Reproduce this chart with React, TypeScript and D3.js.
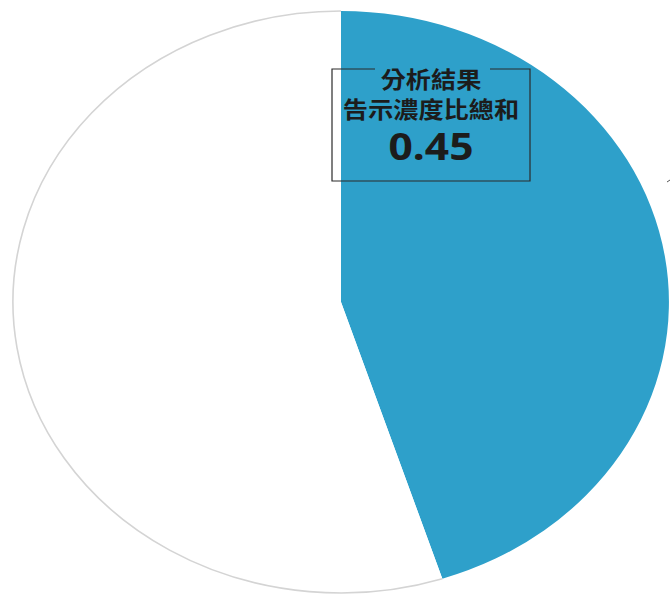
import React from "react";
import * as d3 from "d3";

const categories = ["告示濃度比總和", "其餘"];
const values = [0.45, 0.55];
const colors = ["#2EA0CA", "#FFFFFF"];
const titleLines = ["分析結果", "告示濃度比總和"];
const valueLabel = "0.45";

const W = 670;
const H = 596;
const cx = 341;
const cy = 302;
const rx = 328;
const ry = 291;

export default function App() {
  const pie = d3
    .pie<number>()
    .sort(null)
    .value((d) => d);
  const arcs = pie(values);
  const arc = d3.arc<d3.PieArcDatum<number>>().innerRadius(0).outerRadius(1);
  const rim = d3.arc<d3.PieArcDatum<number>>().innerRadius(1).outerRadius(1);

  const boxX = 332;
  const boxY = 69;
  const boxW = 198;
  const boxH = 112;
  const gapL = 375;
  const gapR = 490;
  const tx = (boxX + boxX + boxW) / 2;
  const sx = 1.12;
  const font = "'Noto Sans CJK TC', 'Noto Sans CJK SC', sans-serif";

  return (
    <svg
      width={W}
      height={H}
      style={{ position: "absolute", left: 0, top: 0, display: "block" }}
    >
      <rect x={0} y={0} width={W} height={H} fill="#ffffff" />
      <g transform={`translate(${cx},${cy}) scale(${rx},${ry})`}>
        {arcs.map((a, i) => (
          <path key={categories[i]} d={arc(a) || ""} fill={colors[i]} stroke="none" />
        ))}
        <path
          d={rim(arcs[1]) || ""}
          fill="none"
          stroke="#d4d4d4"
          strokeWidth={1.6}
          vectorEffect="non-scaling-stroke"
        />
      </g>
      <g fill="none" stroke="#2b2b2b" strokeWidth={1.2}>
        <path
          d={`M${gapL},${boxY} H${boxX} V${boxY + boxH} H${boxX + boxW} V${boxY} H${gapR}`}
        />
      </g>
      <g
        transform={`translate(${tx},0) scale(${sx},1)`}
        fill="#1c1c1c"
        fontFamily={font}
        fontWeight="bold"
        textAnchor="middle"
      >
        <text x={0} y={88.5} fontSize={22.5}>
          {titleLines[0]}
        </text>
        <text x={0} y={118.5} fontSize={22.5}>
          {titleLines[1]}
        </text>
        <text x={0} y={160.5} fontSize={38} fontFamily="'Noto Sans', 'DejaVu Sans', sans-serif">
          {valueLabel}
        </text>
      </g>
      <line x1={667} y1={182} x2={670} y2={180} stroke="#555" strokeWidth={1} />
    </svg>
  );
}
